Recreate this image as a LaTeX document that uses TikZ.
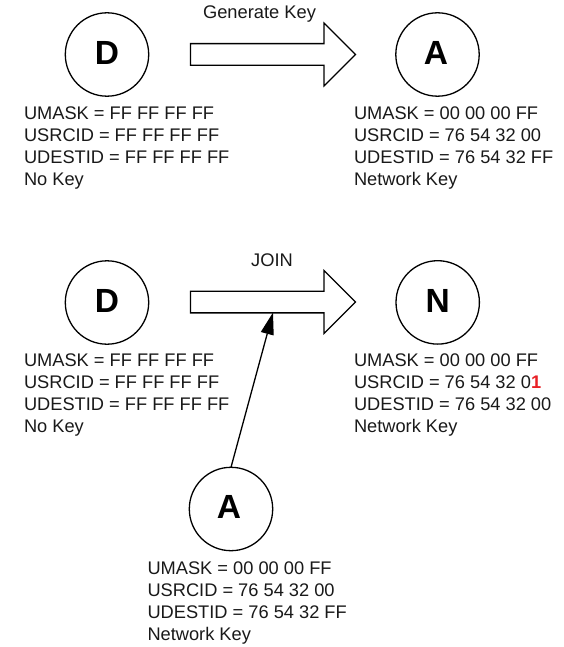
\documentclass[tikz,border=0pt]{standalone}
\usepackage{fontspec}
\setmainfont{Liberation Sans}
\usetikzlibrary{shapes.arrows,arrows.meta}
\definecolor{keyred}{RGB}{232,32,38}
\tikzset{
  station/.style={circle,draw=black,line width=1.3pt,minimum size=83.4pt,inner sep=0pt,outer sep=0pt,
    font=\fontsize{33.5}{34}\selectfont\bfseries,text height=24pt,text depth=4.4pt},
  blockarrow/.style={shape=single arrow,draw=black,line width=1.3pt,fill=white,minimum height=165pt,minimum width=61pt,
    single arrow head extend=20.5pt,single arrow tip angle=90,single arrow head indent=0pt,inner sep=10.2pt,outer sep=0pt},
  info/.style={anchor=north west,align=left,inner sep=0pt,outer sep=0pt,text=black!90,
    font=\fontsize{18.25}{22}\selectfont},
  caption/.style={anchor=base,inner sep=0pt,text=black!90,font=\fontsize{18.3}{20}\selectfont},
  pointer/.style={line width=1.3pt,-{Triangle[length=22pt,width=13pt]}}
}
\begin{document}
\begin{tikzpicture}[x=1pt,y=-1pt]
\useasboundingbox (0,0) rectangle (563,647);
\node[station] (d1) at (107,54.5) {D};
\node[station] (a1) at (437.5,54.5) {\kern-3pt A};
\node[station] (d2) at (107,302.5) {D};
\node[station] (n2) at (437.7,302.4) {N};
\node[station] (a3) at (231,509) {\kern-4pt A};
\node[blockarrow] (gen) at (267.5,54.5) {};
\node[blockarrow] (join) at (267.5,302) {};
\node[caption] (genlabel) at (259.5,18.3) {Generate Key};
\node[caption] (joinlabel) at (272,266.7) {JOIN};
\node[info] (t1) at (24,106.8) {UMASK = FF FF FF FF\\USRCID = FF FF FF FF\\UDESTID = FF FF FF FF\\No Key};
\node[info] (t2) at (354,106.8) {UMASK = 00 00 00 FF\\USRCID = 76 54 32 00\\UDESTID = 76 54 32 FF\\Network Key};
\node[info] (t3) at (24,354) {UMASK = FF FF FF FF\\USRCID = FF FF FF FF\\UDESTID = FF FF FF FF\\No Key};
\node[info] (t4) at (354,354) {UMASK = 00 00 00 FF\\USRCID = 76 54 32 0{\color{keyred}\bfseries 1}\\UDESTID = 76 54 32 00\\Network Key};
\node[info] (t5) at (147.5,561.5) {UMASK = 00 00 00 FF\\USRCID = 76 54 32 00\\UDESTID = 76 54 32 FF\\Network Key};
\coordinate (hit) at (273,312.5);
\draw[pointer] (a3.north) -- (hit);
\end{tikzpicture}
\end{document}
